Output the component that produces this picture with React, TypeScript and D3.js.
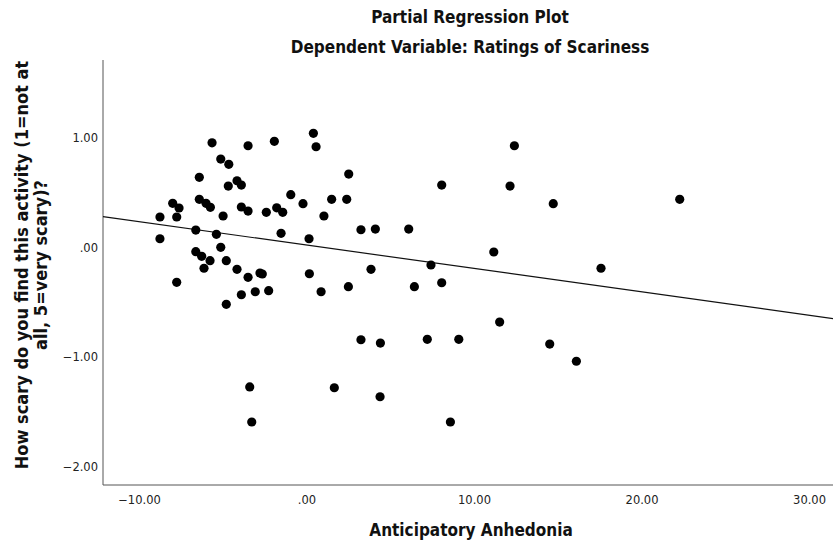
import React from "react";
import * as d3 from "d3";

const xValues = [
  -5.67, -3.52, -1.95, -5.15, -4.67, -6.43, -4.18, -3.92, -4.70, -0.97,
  -8.02, -7.64, -6.43, -6.03, -5.77, -3.92, -3.52, -2.43, -1.81, -1.45,
  -8.78, -7.78, -5.01, -1.55, -6.64, -5.41, -8.78, -5.15, -6.64, -6.29,
  -5.79, -6.15, -4.82, -4.18, -3.52, -2.81, -2.67, -7.78, -3.92, -3.09,
  -2.29, -4.82, 0.38, 0.54, 2.49, 8.04, -0.24, 1.47, 2.37, 1.01,
  3.22, 4.08, 6.07, 0.12, 7.40, 0.14, 3.82, 0.84, 2.47, 6.41,
  8.04, 12.38, 12.12, 14.70, 22.25, 11.15, 17.55, 11.50, 7.18, 9.06,
  14.49, 16.08, 8.56, 3.22, 4.38, -3.42, 1.63, 4.36, -3.30,
];
const yValues = [
  0.954, 0.927, 0.967, 0.806, 0.758, 0.639, 0.608, 0.569, 0.560, 0.481,
  0.403, 0.360, 0.439, 0.403, 0.366, 0.369, 0.332, 0.321, 0.362, 0.321,
  0.278, 0.278, 0.287, 0.129, 0.159, 0.120, 0.080, 0.002, -0.038, -0.080,
  -0.120, -0.189, -0.120, -0.199, -0.271, -0.232, -0.241, -0.317, -0.430, -0.403,
  -0.393, -0.517, 1.040, 0.918, 0.669, 0.569, 0.399, 0.439, 0.439, 0.287,
  0.162, 0.168, 0.168, 0.080, -0.159, -0.239, -0.199, -0.403, -0.357, -0.357,
  -0.321, 0.927, 0.560, 0.399, 0.439, -0.041, -0.189, -0.679, -0.836, -0.836,
  -0.879, -1.036, -1.589, -0.840, -0.870, -1.270, -1.277, -1.359, -1.589,
];
const xTicks = [-10, 0, 10, 20, 30];
const yTicks = [1, 0, -1, -2];
const fitIntercept = 0.022;
const fitSlope = -0.0213;
const titleLines = ["Partial Regression Plot", "Dependent Variable: Ratings of Scariness"];
const xLabel = "Anticipatory Anhedonia";
const yLabelLines = ["How scary do you find this activity (1=not at", "all, 5=very scary)?"];

const fmt = (v: number) => {
  const s = d3.format(".2f")(v);
  return s.replace(/^(-?)0\./, "$1.");
};

export default function App() {
  const W = 833, H = 543;
  const left = 103, right = 835, top = 60, bottom = 485;
  const x = d3.scaleLinear().domain([-12.18, 31.52]).range([left, right]);
  const y = d3.scaleLinear().domain([-2.163, 1.708]).range([bottom, top]);
  const x0 = x.domain()[0], x1 = x.domain()[1];
  const titleFont = "'DejaVu Sans', sans-serif";
  return (
    <svg width={W} height={H} style={{ position: "absolute", left: 0, top: 0, background: "#fff" }}
      fontFamily="'DejaVu Sans', sans-serif">
      <rect width={W} height={H} fill="#fff" />
      {titleLines.map((t, i) => (
        <text key={t} x={470} y={23 + i * 30} textAnchor="middle" fontSize={17} fontWeight="bold"
          fontFamily={titleFont} style={{ fontStretch: "condensed" }} fill="#111">{t}</text>
      ))}
      <line x1={left} x2={left} y1={top} y2={bottom} stroke="#555" strokeWidth={1} />
      <line x1={left} x2={right} y1={bottom} y2={bottom} stroke="#555" strokeWidth={1} />
      {yTicks.map((t) => (
        <text key={t} x={left - 5} y={y(t)} dy="0.35em" textAnchor="end" fontSize={11.5} fill="#222">{fmt(t)}</text>
      ))}
      {xTicks.map((t) => (
        <text key={t} x={x(t)} y={bottom + 19} textAnchor="middle" fontSize={11.5} fill="#222">{fmt(t)}</text>
      ))}
      <text x={471} y={536} textAnchor="middle" fontSize={17} fontWeight="bold" fontFamily={titleFont}
        style={{ fontStretch: "condensed" }} fill="#111">{xLabel}</text>
      {yLabelLines.map((t, i) => (
        <text key={t} transform={`translate(${28 + i * 19},${265}) rotate(-90)`} textAnchor="middle"
          fontSize={18} fontWeight="bold" fontFamily={titleFont} style={{ fontStretch: "condensed" }} fill="#111">{t}</text>
      ))}
      <line x1={x(x0)} y1={y(fitIntercept + fitSlope * x0)} x2={x(x1)} y2={y(fitIntercept + fitSlope * x1)}
        stroke="#111" strokeWidth={1.2} />
      {xValues.map((v, i) => (
        <circle key={i} cx={x(v)} cy={y(yValues[i])} r={4.6} fill="#000" />
      ))}
    </svg>
  );
}
